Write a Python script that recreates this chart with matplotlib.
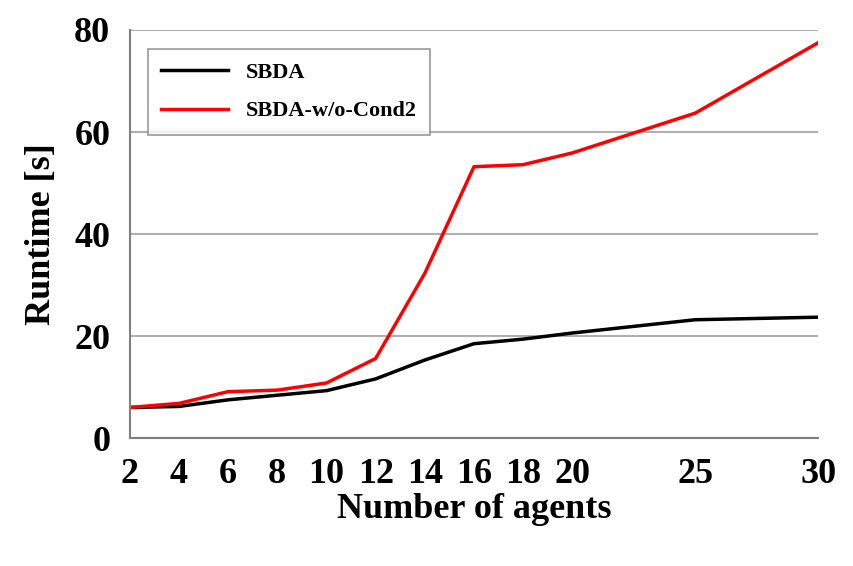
import matplotlib.pyplot as plt

agents = [2, 4, 6, 8, 10, 12, 14, 16, 18, 20, 25, 30]
sbda = [6.0, 6.2, 7.5, 8.4, 9.3, 11.6, 15.3, 18.5, 19.4, 20.6, 23.2, 23.7]
sbda_no_cond2 = [6.0, 6.8, 9.1, 9.4, 10.8, 15.6, 32.3, 53.2, 53.6, 55.9, 63.7, 77.5]
xticks = [2, 4, 6, 8, 10, 12, 14, 16, 18, 20, 25, 30]
yticks = [0, 20, 40, 60, 80]

plt.rcParams["font.family"] = "Liberation Serif"
plt.rcParams["font.weight"] = "bold"

fig = plt.figure(figsize=(8.54, 5.66), dpi=100)
ax = fig.add_axes([0.152, 0.226, 0.806, 0.721])
ax.plot(agents, sbda, color='black', lw=2.5, label='SBDA')
ax.plot(agents, sbda_no_cond2, color='#ff0000', lw=2.5, label='SBDA-w/o-Cond2')
ax.set_xlim(2, 30)
ax.set_ylim(0, 80)
ax.set_xticks(xticks)
ax.set_yticks(yticks)
ax.tick_params(labelsize=26, length=0, pad=14)
for lab in ax.get_xticklabels() + ax.get_yticklabels():
    lab.set_fontweight('bold')
ax.yaxis.grid(True, color='#b0b0b0', lw=1.5)
ax.set_axisbelow(True)
for s in ['top', 'right']:
    ax.spines[s].set_visible(False)
ax.spines['left'].set_color('#808080')
ax.spines['bottom'].set_color('#808080')
ax.spines['left'].set_linewidth(1.5)
ax.spines['bottom'].set_linewidth(1.5)
ax.set_xlabel('Number of agents', fontsize=26, fontweight='bold', labelpad=2)
ax.set_ylabel('Runtime [s]', fontsize=26, fontweight='bold', labelpad=12)
leg = ax.legend(loc='upper left', prop={'size': 16, 'weight': 'bold'},
                fancybox=False, edgecolor='#808080', handlelength=3.0,
                borderpad=0.6, labelspacing=0.8, bbox_to_anchor=(0.01, 0.98))
leg.get_frame().set_linewidth(1.2)
fig.savefig('out.png', dpi=100)
